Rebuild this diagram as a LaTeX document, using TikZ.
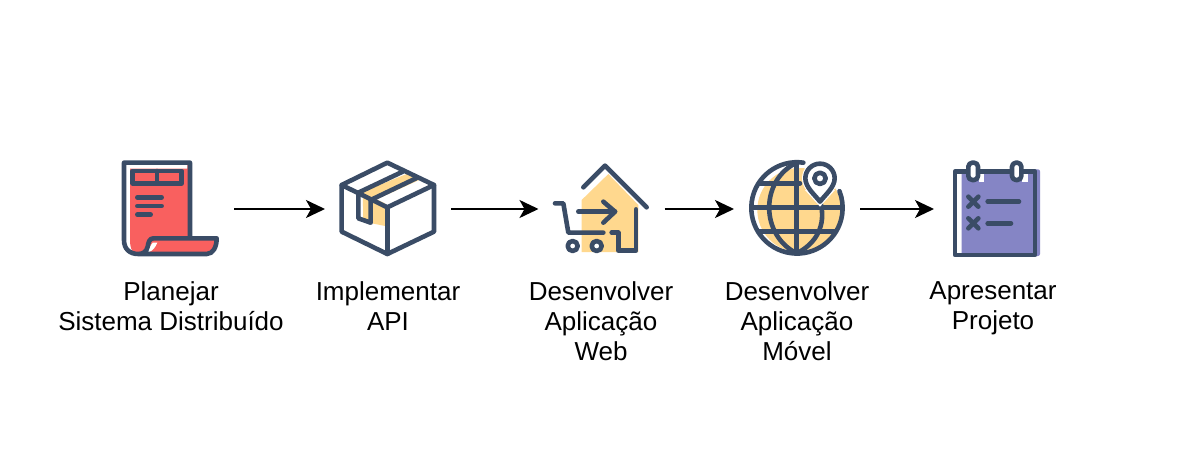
\documentclass[tikz,border=0pt]{standalone}
\usepackage{fontspec}
\setmainfont{Liberation Sans}
\usetikzlibrary{arrows.meta}
\definecolor{ink}{HTML}{3A4C66}
\definecolor{redfill}{HTML}{F9605F}
\definecolor{yellowfill}{HTML}{FFD88E}
\definecolor{violetfill}{HTML}{8585C5}
\tikzset{
  ic/.style={draw=ink,line width=4.6pt,line join=round,line cap=round},
  slot/.style={minimum width=126pt,minimum height=126pt,inner sep=0pt,outer sep=0pt},
  lbl/.style={anchor=north,align=center,inner sep=0pt,font=\fontsize{26}{30}\selectfont},
  flow/.style={draw=black,line width=2pt,-{Stealth[length=19pt,width=18pt,inset=5pt]}},
  zoomed/.style={scale=1/3}
}
\begin{document}
\begin{tikzpicture}[x=1pt,y=-1pt]
\path[use as bounding box,fill=white] (0,0) rectangle (1177,468);

% invisible slots for the icons
\node[slot] (i1) at (171,209) {};
\node[slot] (i2) at (388,209) {};
\node[slot] (i3) at (601.5,209) {};
\node[slot] (i4) at (797,209) {};
\node[slot] (i5) at (997,209) {};

% document icon
\begin{scope}[shift={(110,150)},zoomed]
\fill[redfill] (60,56) -- (232,56) -- (232,45) -- (240,45) -- (240,265) -- (320,265)
  .. controls (320,290) and (310,312) .. (290,312) -- (85,312)
  .. controls (70,312) and (60,300) .. (60,270) -- cycle;
\fill[white] (128,278) -- (142,278) .. controls (136,292) and (130,300) .. (118,306) -- (108,306)
  .. controls (118,298) and (120,288) .. (128,278) -- cycle;
\path[ic] (240,265) -- (240,38) -- (42,38) -- (42,270)
  .. controls (42,298) and (60,312) .. (85,312) -- (290,312)
  .. controls (310,312) and (320,290) .. (320,265) -- (130,265)
  .. controls (118,265) and (115,278) .. (113,290)
  .. controls (110,304) and (100,312) .. (85,312);
\path[ic] (68,63) rectangle (215,100);
\path[ic] (141,63) -- (141,100);
\path[ic] (82,142) -- (155,142);
\path[ic] (82,168) -- (155,168);
\path[ic] (82,194) -- (122,194);
\end{scope}

% box icon
\begin{scope}[shift={(330,150)},zoomed]
\fill[yellowfill] (98,125) -- (235,70) -- (272,88) -- (140,148) -- (165,160) -- (165,228)
  -- (100,215) -- cycle;
\path[ic] (172,38) -- (312,105) -- (312,245) -- (172,312) -- (35,245) -- (35,105) -- cycle;
\path[ic] (35,105) -- (172,172) -- (312,105);
\path[ic] (172,172) -- (172,312);
\path[ic] (85,128) -- (218,65);
\path[ic] (122,150) -- (258,85);
\path[ic] (85,128) -- (85,205) -- (122,218) -- (122,150);
\end{scope}

% shop and cart icon
\begin{scope}[shift={(540,150)},zoomed]
\fill[yellowfill] (125,150) -- (205,72) -- (295,165) -- (295,306) -- (125,306) -- cycle;
\path[ic] (130,112) -- (195,47) -- (320,172);
\path[ic] (288,178) -- (288,302) -- (235,302) -- (235,248) -- (215,248);
\path[ic] (115,185) -- (225,185);
\path[ic] (190,155) -- (225,185) -- (190,218);
\path[ic] (45,160) -- (70,160) -- (85,248) -- (190,248);
\path[ic,fill=white] (98,288) circle[radius=15];
\path[ic,fill=white] (170,288) circle[radius=15];
\end{scope}

% globe icon
\begin{scope}[shift={(740,150)},zoomed]
\fill[yellowfill] (178,180) circle[radius=126];
\path[ic] (190,38) arc[start angle=-82,end angle=-381.5,radius=137];
\path[ic] (170,38) -- (170,310);
\path[ic] (170,38) .. controls (60,90) and (60,255) .. (170,310);
\path[ic] (170,310) .. controls (230,280) and (258,225) .. (242,160);
\path[ic] (36,172) -- (303,172);
\path[ic] (58,100) -- (180,100);
\path[ic] (55,245) -- (285,245);
\fill[white] (240,85) circle[radius=54];
\fill[white] (240,170) -- (195,120) -- (285,120) -- cycle;
\path[ic] (240,155) .. controls (225,135) and (196,112) .. (196,85)
  arc[start angle=180,end angle=360,radius=44]
  .. controls (284,112) and (255,135) .. (240,155) -- cycle;
\path[ic] (240,85) circle[radius=17];
\end{scope}

% notepad icon
\begin{scope}[shift={(935,150)},zoomed]
\fill[violetfill,rounded corners=2pt] (80,58) -- (315,58) -- (315,318) -- (80,318) -- cycle;
\fill[white] (132,72) rectangle (148,95);
\fill[white] (262,72) rectangle (280,95);
\path[ic] (60,65) rectangle (300,315);
\path[ic,fill=white,rounded corners=4pt] (100,38) rectangle (129,90);
\path[ic,fill=white,rounded corners=4pt] (231,38) rectangle (259,90);
\path[ic] (100,140) -- (130,170);
\path[ic] (130,140) -- (100,170);
\path[ic] (100,205) -- (130,235);
\path[ic] (130,205) -- (100,235);
\path[ic] (158,155) -- (252,155);
\path[ic] (158,220) -- (228,220);
\end{scope}

% labels
\node[lbl] (t1) at (171,281) {Planejar\\Sistema Distribuído};
\node[lbl] (t2) at (388,281) {Implementar\\API};
\node[lbl] (t3) at (601,281) {Desenvolver\\Aplicação\\Web};
\node[lbl] (t4) at (797,281) {Desenvolver\\Aplicação\\Móvel};
\node[lbl] (t5) at (993,281) {Apresentar\\Projeto};

% connectors
\draw[flow] (i1) -- (i2);
\draw[flow] (i2) -- (i3);
\draw[flow] (i3) -- (i4);
\draw[flow] (i4) -- (i5);
\end{tikzpicture}
\end{document}
